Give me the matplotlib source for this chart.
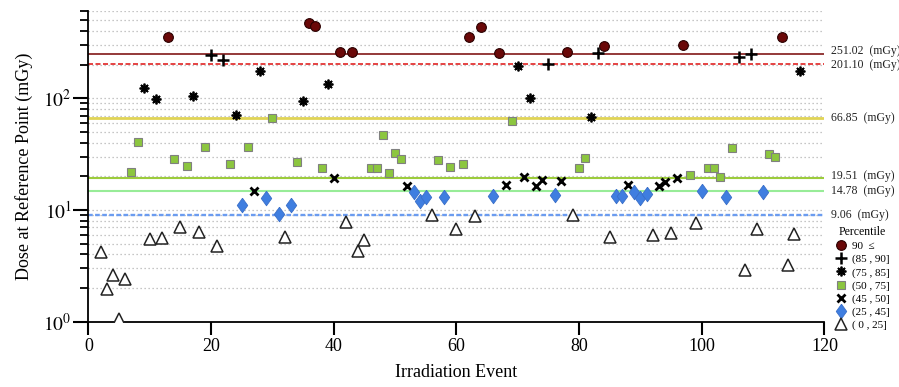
import matplotlib
matplotlib.use("Agg")
import matplotlib.pyplot as plt

plt.rcParams['font.family'] = ['Liberation Serif', 'DejaVu Serif']
plt.rcParams['mathtext.fontset'] = 'stix'

# ---- data ----
p90_x = [13, 36, 37, 41, 43, 62, 64, 67, 78, 84, 97, 113]
p90_y = [355, 475, 447, 260, 260, 352, 432, 256, 258, 294, 300, 356]

p85_x = [20, 22, 75, 83, 106, 108]
p85_y = [244, 220, 203, 253, 233, 248]

p75_x = [9, 11, 17, 24, 28, 35, 39, 70, 72, 82, 116]
p75_y = [124, 98.6, 106, 70.8, 176, 94.6, 133, 196, 101, 67.6, 176]

p50_x = [7, 8, 14, 16, 19, 23, 26, 30, 34, 38, 46, 47, 48, 49, 50, 51, 57,
         59, 61, 69, 80, 81, 98, 101, 102, 103, 105, 111, 112]
p50_y = [22.0, 40.9, 28.4, 24.8, 36.9, 26.0, 36.9, 67.0, 26.7, 23.9, 23.9,
         23.9, 46.6, 21.3, 32.6, 28.4, 27.9, 24.4, 25.8, 63.0, 23.9, 29.2,
         20.6, 23.7, 23.7, 19.9, 35.9, 31.7, 29.8]

p45_x = [27, 40, 52, 68, 71, 73, 74, 77, 88, 93, 94, 96]
p45_y = [14.9, 19.5, 16.5, 16.7, 19.6, 16.5, 18.7, 18.3, 16.7, 16.5, 17.9, 19.5]

p25_x = [25, 29, 31, 33, 53, 54, 55, 58, 66, 76, 86, 87, 89, 90, 91, 100, 104, 110]
p25_y = [11.0, 12.7, 9.15, 11.1, 14.6, 12.0, 13.1, 13.2, 13.4, 13.7, 13.4,
         13.4, 14.6, 12.8, 13.8, 14.8, 13.2, 14.6]

p0_x = [2, 3, 4, 5, 6, 10, 12, 15, 18, 21, 32, 42, 44, 45, 56, 60, 63, 79,
        85, 92, 95, 99, 107, 109, 114, 115]
p0_y = [4.18, 1.95, 2.62, 1.06, 2.43, 5.53, 5.65, 7.04, 6.40, 4.73, 5.73,
        7.86, 4.32, 5.39, 9.02, 6.76, 8.84, 9.08, 5.77, 6.01, 6.26, 7.65,
        2.92, 6.76, 3.22, 6.14]

ref_values = [251.02, 201.10, 66.85, 19.51, 14.78, 9.06]
ref_colors = ['#8b2a2a', '#e02424', '#e0d455', '#9ccc3c', '#98ec98', '#6b9cf0']
ref_styles = ['-', (0, (3, 1.5)), '-', '-', '-', (0, (2, 1))]
ref_widths = [1.3, 1.2, 2.0, 1.5, 1.5, 1.7]
ref_text_shift = [2.0, -0.5, 0, 1.0, 0, 0]   # points, keeps labels apart

legend_labels = ['90  \u2264', '(85 , 90]', '(75 , 85]', '(50 , 75]',
                 '(45 , 50]', '(25 , 45]', '( 0 , 25]']

# ---- figure ----
fig = plt.figure(figsize=(8.99, 3.87), dpi=100)
ax = fig.add_axes([0.0984, 0.1687, 0.8187, 0.8018])
ax.set_yscale('log')
ax.set_xlim(0, 120)
ax.set_ylim(1, 600)

# dotted background grid
for dec in [1, 10, 100]:
    for m in range(1, 10):
        v = m * dec
        if 1 < v <= 600:
            ax.axhline(v, color='#b4b4b4', lw=0.9, ls=(0, (1, 2.2)), zorder=0.5)

# reference percentile lines
for v, c, s, w, dy in zip(ref_values, ref_colors, ref_styles, ref_widths, ref_text_shift):
    ax.axhline(v, color=c, ls=s, lw=w, zorder=1)
    ax.annotate(f'{v:.2f}  (mGy)', xy=(1.0, v), xycoords=ax.get_yaxis_transform(),
                xytext=(4.5, dy), textcoords='offset points',
                ha='left', va='center', fontsize=8.5, color='#222222')

diamond = [(0, 1), (0.72, 0), (0, -1), (-0.72, 0), (0, 1)]

h90, = ax.plot(p90_x, p90_y, 'o', ms=7, mfc='#6a0808', mec='#2a0000', mew=0.8, zorder=3)
h85, = ax.plot(p85_x, p85_y, '+', ms=9, mec='black', mew=1.8, zorder=3)
h75, = ax.plot(p75_x, p75_y, ls='none', marker=(8, 2, 0), ms=7, mec='black', mew=1.3, zorder=3)
h50, = ax.plot(p50_x, p50_y, 's', ms=5.5, mfc='#8cc63f', mec='#808080', mew=0.8, zorder=3)
h45, = ax.plot(p45_x, p45_y, 'x', ms=5.5, mec='black', mew=2.0, zorder=3)
h25, = ax.plot(p25_x, p25_y, ls='none', marker=diamond, ms=10.5, mfc='#3f7ee0',
               mec='#3a6fc8', mew=0.6, zorder=3)
h0, = ax.plot(p0_x, p0_y, '^', ms=8, mfc='white', mec='#222222', mew=1.1, zorder=3)

# axes styling
for side in ['top', 'right']:
    ax.spines[side].set_visible(False)
ax.spines['left'].set_linewidth(1.3)
ax.spines['bottom'].set_linewidth(1.3)

ax.set_xticks([0, 20, 40, 60, 80, 100, 120])
ax.tick_params(axis='x', direction='out', length=9, width=1.5, labelsize=13, pad=3)
ax.set_yticks([1, 10, 100])
ax.set_yticklabels([r'$10^{0}$', r'$10^{1}$', r'$10^{2}$'])
ax.tick_params(axis='y', which='major', direction='out', length=11, width=1.5, labelsize=14, pad=1)
ax.tick_params(axis='y', which='minor', direction='out', length=6, width=1.3)

ax.set_xlabel('Irradiation Event', fontsize=13)
ax.xaxis.set_label_coords(0.5, -0.135)
ax.set_ylabel('Dose at Reference Point (mGy)', fontsize=13)
ax.yaxis.set_label_coords(-0.076, 0.5)

leg = fig.legend([h90, h85, h75, h50, h45, h25, h0], legend_labels,
                 loc='upper left', bbox_to_anchor=(0.929, 0.415),
                 frameon=False, title='Percentile', fontsize=8,
                 title_fontsize=8.5, handlelength=1.0, handletextpad=0.5,
                 labelspacing=0.28, borderpad=0, borderaxespad=0)

fig.savefig('out.png', dpi=100)
